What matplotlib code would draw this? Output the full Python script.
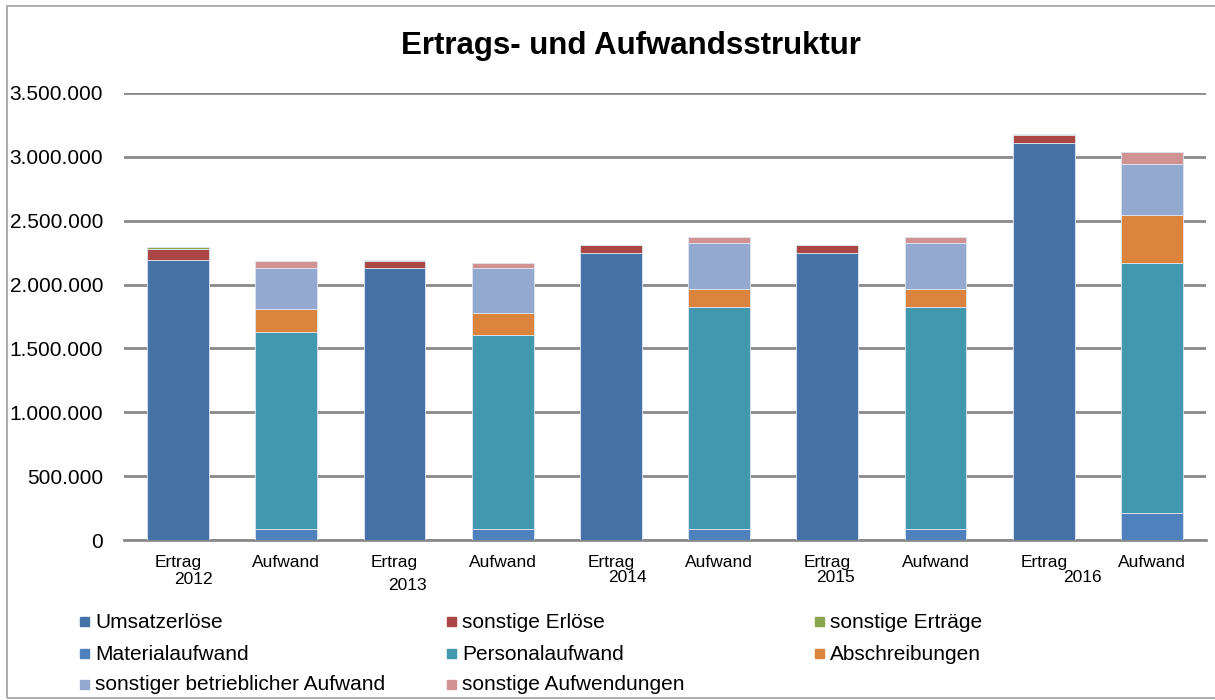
import numpy as np
import matplotlib
matplotlib.use('Agg')
import matplotlib.pyplot as plt
import matplotlib.transforms as mtransforms
from matplotlib.patches import Rectangle

plt.rcParams['font.family'] = ['Liberation Sans', 'DejaVu Sans']

# Kategorien (Ertrag / Aufwand je Jahr)
categories = ['Ertrag', 'Aufwand'] * 5
years = ['2012', '2013', '2014', '2015', '2016']
year_pos = [0.14, 2.12, 4.15, 6.08, 8.36]      # x-Position der Jahreszahl (Datenkoordinaten)
year_y = [580, 586, 577, 577, 577]             # y-Position in Pixel von oben

series_names = ['Umsatzerlöse', 'sonstige Erlöse', 'sonstige Erträge',
                'Materialaufwand', 'Personalaufwand', 'Abschreibungen',
                'sonstiger betrieblicher Aufwand', 'sonstige Aufwendungen']
colors = ['#4572A7', '#AA4643', '#89A54E',
          '#4F81BD', '#4198AF', '#DB843D',
          '#93A9CF', '#D19392']

umsatz          = [2195000, 0, 2127000, 0, 2245000, 0, 2245000, 0, 3111000, 0]
sonst_erloese   = [83000, 0, 55000, 0, 65000, 0, 65000, 0, 62000, 0]
sonst_ertraege  = [15000, 0, 10000, 0, 0, 0, 0, 0, 8000, 0]
material        = [0, 84000, 0, 90000, 0, 90000, 0, 90000, 0, 209000]
personal        = [0, 1542000, 0, 1518000, 0, 1732000, 0, 1732000, 0, 1957000]
abschreibungen  = [0, 180000, 0, 172000, 0, 141000, 0, 141000, 0, 376000]
sonst_betr      = [0, 326000, 0, 352000, 0, 365000, 0, 365000, 0, 404000]
sonst_aufw      = [0, 52000, 0, 37000, 0, 44000, 0, 44000, 0, 89000]

data = [umsatz, sonst_erloese, sonst_ertraege, material,
        personal, abschreibungen, sonst_betr, sonst_aufw]

W, H = 1215, 700
fig = plt.figure(figsize=(W / 100, H / 100), dpi=100)
ax = fig.add_axes([124 / W, 1 - 540 / H, (1206 - 124) / W, (540 - 93) / H])

pos = np.arange(len(categories))
bottom = np.zeros(len(categories))
for vals, c in zip(data, colors):
    vals = np.array(vals, dtype=float)
    ax.bar(pos, vals, 0.57, bottom=bottom, color=c, edgecolor='#dfe6ef',
           linewidth=0.6, zorder=3)
    bottom += vals

ax.set_xlim(-0.5, len(categories) - 0.5)
ax.set_ylim(0, 3500000)
ax.set_yticks(np.arange(0, 3500001, 500000))
ax.set_yticklabels(['{:,.0f}'.format(v).replace(',', '.') for v in ax.get_yticks()],
                   fontsize=15)
ax.set_xticks(pos)
ax.set_xticklabels(categories, fontsize=12.5)
ax.tick_params(length=0)
ax.tick_params(axis='y', pad=15)
ax.tick_params(axis='x', pad=11)
ax.grid(axis='y', color='#8a8a8a', linewidth=2, zorder=0)
for s in ['left', 'right', 'top']:
    ax.spines[s].set_visible(False)
ax.spines['bottom'].set_color('#8a8a8a')
ax.spines['bottom'].set_linewidth(2)

# Jahreszahlen
trans = mtransforms.blended_transform_factory(ax.transData, fig.transFigure)
for yr, xp, yp in zip(years, year_pos, year_y):
    ax.text(xp, 1 - yp / H, yr, transform=trans, ha='center', va='center',
            fontsize=12.5)

fig.text(631 / W, 1 - 46 / H, 'Ertrags- und Aufwandsstruktur', ha='center',
         va='center', fontsize=22.5, fontweight='bold')

# Legende
col_x = [80, 447, 815]
row_y = [622, 654, 685]
for i, (name, c) in enumerate(zip(series_names, colors)):
    x0 = col_x[i % 3]
    y0 = row_y[i // 3]
    fig.patches.append(Rectangle((x0 / W, 1 - (y0 + 4) / H), 9 / W, 9 / H,
                                 transform=fig.transFigure, color=c))
    fig.text((x0 + 15) / W, 1 - y0 / H, name, va='center', ha='left', fontsize=15)

# Rahmen
fig.patches.append(Rectangle((7 / W, 2 / H), 1.0, 1 - 8 / H, transform=fig.transFigure,
                             fill=False, edgecolor='#a0a0a0', linewidth=1.2))

fig.savefig('out.png', dpi=100)
